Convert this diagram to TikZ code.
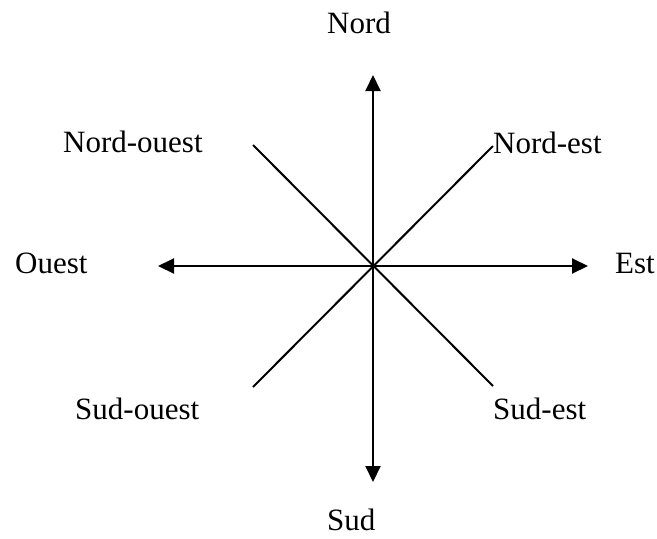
\documentclass[tikz,border=0pt]{standalone}
\usepackage{fontspec}
\setmainfont{Liberation Serif}
\usetikzlibrary{arrows.meta}
\begin{document}
\begin{tikzpicture}[x=1pt,y=-1pt,
  lbl/.style={inner sep=0pt,anchor=base west,font=\fontsize{31}{36}\selectfont},
  ax/.style={line width=2pt},
  axarrow/.style={ax,{Triangle[length=16pt,width=15pt]}-{Triangle[length=16pt,width=15pt]}}]
\useasboundingbox (0,0) rectangle (657,539);
\coordinate (n) at (373,75);
\coordinate (s) at (373,482);
\coordinate (w) at (158,266);
\coordinate (e) at (588,266);
\coordinate (nw) at (253,145);
\coordinate (se) at (493,386);
\coordinate (ne) at (493,146);
\coordinate (sw) at (253,387);
\draw[axarrow] (n) -- (s);
\draw[axarrow] (w) -- (e);
\draw[ax] (nw) -- (se);
\draw[ax] (ne) -- (sw);
\node[lbl] (tn) at (327,33) {Nord};
\node[lbl] (tnw) at (63,152) {Nord-ouest};
\node[lbl] (tne) at (493,153) {Nord-est};
\node[lbl] (tw) at (15,273) {Ouest};
\node[lbl] (te) at (615,273) {Est};
\node[lbl] (tsw) at (75,419) {Sud-ouest};
\node[lbl] (tse) at (493,419) {Sud-est};
\node[lbl] (ts) at (327,530) {Sud};
\end{tikzpicture}
\end{document}
